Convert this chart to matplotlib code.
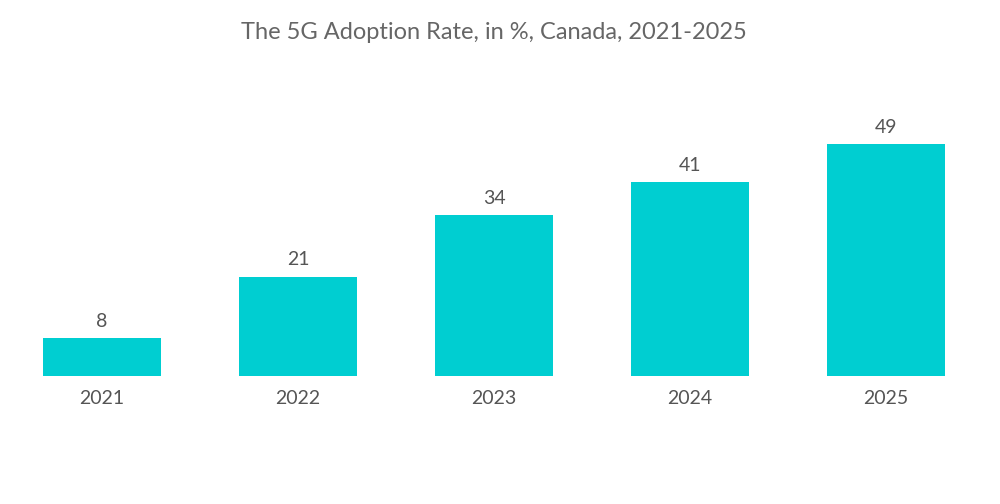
import matplotlib
matplotlib.use("Agg")
import matplotlib.pyplot as plt

# ── Data ──
years = ["2021", "2022", "2023", "2024", "2025"]
rates = [8, 21, 34, 41, 49]

bar_color = "#00CED1"
text_color = "#555555"

plt.rcParams['font.family'] = ['Lato', 'DejaVu Sans']

fig = plt.figure(figsize=(10, 5.04), dpi=100)
ax = fig.add_axes([0.043, 0.254, 0.902, 0.516])

x = range(len(years))
ax.bar(x, rates, width=0.6, color=bar_color)

for xi, v in zip(x, rates):
    ax.annotate(f"{v}", (xi, v), textcoords="offset points", xytext=(0, 6),
                ha='center', va='bottom', fontsize=14, color=text_color)

ax.set_xlim(-0.3, 4.3)
ax.set_ylim(0, 55)
ax.set_xticks(list(x))
ax.set_xticklabels(years, fontsize=14, color=text_color)
ax.tick_params(axis='x', length=0, pad=10)
ax.set_yticks([])
for s in ax.spines.values():
    s.set_visible(False)

fig.text(0.494, 0.936, "The 5G Adoption Rate, in %, Canada, 2021-2025",
         ha='center', va='center', fontsize=17, color="#666666")

plt.savefig("out.png", dpi=100)
